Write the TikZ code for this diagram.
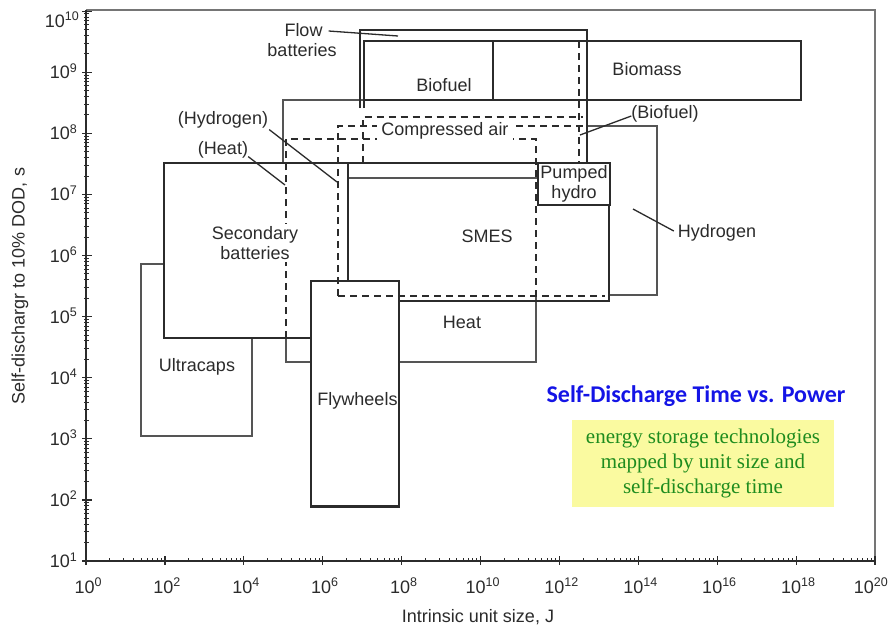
\documentclass[tikz,border=0pt]{standalone}
\usepackage{fontspec}
\setmainfont{Liberation Sans}
\newfontfamily\titlefont{Carlito}
\newfontfamily\notefont{Liberation Serif}
\usetikzlibrary{calc}
\definecolor{ink}{HTML}{2B2B2B}
\definecolor{titleblue}{HTML}{1414E6}
\definecolor{notegreen}{HTML}{1E8C1E}
\definecolor{noteyellow}{HTML}{FAFAA0}
\newcommand{\tenpow}[1]{10\raisebox{6.5pt}{\fontsize{12.5}{12}\selectfont #1}}
\begin{document}
\begin{tikzpicture}[x=1pt,y=-1pt,
 lab/.style={font=\fontsize{18}{20}\selectfont, text=ink, inner sep=1pt, align=center},
 ticklab/.style={font=\fontsize{18}{20}\selectfont, text=ink, inner sep=0pt},
 thinbox/.style={draw=ink!80, line width=1.1pt},
 medbox/.style={draw=ink, line width=1.7pt},
 thickbox/.style={draw=ink, line width=2.3pt},
 dashbox/.style={draw=ink, line width=1.9pt, dash pattern=on 7pt off 5pt},
 leader/.style={draw=ink, line width=1.3pt},
 framel/.style={draw=ink!65, line width=1.3pt},
 axisl/.style={draw=ink, line width=1.8pt},
 majtick/.style={draw=ink, line width=1.2pt},
 mintick/.style={draw=ink, line width=0.9pt}
]
\useasboundingbox (0,0) rectangle (891,630);
\fill[white] (0,0) rectangle (891,630);

% ---------- frame and axes ----------
\draw[framel] (86,10) -- (875,10) -- (875,561);
\draw[axisl] (86,10) -- (86,561) -- (875,561);
% y ticks
\foreach \d in {0,...,9} \draw[majtick] (82,{561-61.1*\d}) -- (92,{561-61.1*\d});
\foreach \d in {0,...,8} \foreach \m in {2,...,9}
  \draw[mintick] (84,{561-61.1*(\d+log10(\m))}) -- (89,{561-61.1*(\d+log10(\m))});
% x ticks
\foreach \d in {0,...,10} \draw[majtick] ({86+78.9*\d},556) -- ({86+78.9*\d},565);
\foreach \d in {0,...,9} \foreach \m in {2,...,9}
  \draw[mintick] ({86+78.9*(\d+log10(\m))},558) -- ({86+78.9*(\d+log10(\m))},562);

% tick labels
\foreach \e in {1,...,9}
  \node[ticklab, anchor=base east] (ylab\e) at (77,{561-61.1*(\e-1)+6.5}) {\tenpow{\e}};
\node[ticklab, anchor=base east] (ylab10) at (79,27) {\tenpow{10}};
\foreach \e in {0,2,...,18}
  \node[ticklab, anchor=base] (xlab\e) at ({86+39.45*\e+2},593) {\tenpow{\e}};
\node[ticklab, anchor=base east] (xlab20) at (888,593) {\tenpow{20}};

% axis titles
\node[lab, rotate=90] (ytitle) at (20,286) {Self-dischargr to 10\% DOD, s};
\node[lab] (xtitle) at (478,617) {Intrinsic unit size, J};

% ---------- thin outlines ----------
\draw[thinbox] (283,163) -- (283,100) -- (364,100);
\draw[thinbox] (364,100) -- (587,100);
\draw[thinbox] (587,126) -- (657,126) -- (657,295) -- (609,295);
\draw[thinbox] (286,338) -- (286,362) -- (310,362);
\draw[thinbox] (400,362) -- (536,362) -- (536,296);
\draw[thinbox] (164,264) -- (141,264) -- (141,436) -- (252,436) -- (252,338);
\draw[thinbox] (348,178) -- (537,178);

% ---------- dashed outlines ----------
\draw[dashbox] (286,338) -- (286,139) -- (536,139) -- (536,296);
\draw[dashbox] (338,296) -- (338,126) -- (583,126);
\draw[dashbox] (338,296) -- (605,296);
\draw[dashbox] (363,163) -- (363,116.7) -- (583,116.7);
\draw[dashbox] (579,41) -- (579,163);

% ---------- medium outlines ----------
\draw[medbox] (360,108) -- (360,30) -- (587,30) -- (587,163);
\draw[medbox] (364,108) -- (364,40.7) -- (801,40.7) -- (801,100) -- (364,100);
\draw[medbox] (493,40.7) -- (493,100);
\draw[medbox] (310,338) -- (164,338) -- (164,163) -- (610,163);
\draw[medbox] (609,205) -- (609,301) -- (400,301);

% ---------- thick outlines ----------
\draw[thickbox] (348,163) -- (348,281);
\draw[thickbox] (310.7,281) rectangle (399.3,506.5);

% ---------- labels ----------
\node[lab] (flow) at (303.5,30) {Flow};
\node[lab] (flowb) at (302,50) {batteries};
\coordinate (flowpt) at (398,36);
\draw[leader] (flow.east) ++(5,1) -- (flowpt);

\node[lab] (biofuel) at (444,85) {Biofuel};
\node[lab] (biomass) at (647,69) {Biomass};
\node[lab] (hydl) at (223,120) {(Hydrogen)};
\node[lab] (heatl) at (223,150) {(Heat)};
\node[lab, fill=white, inner xsep=4pt, inner ysep=2pt] (cair) at (445,131) {Compressed air};
\node[lab] (biofl) at (665,114) {(Biofuel)};
\node[lab, draw=ink, line width=1.7pt, fill=white, minimum width=72pt, minimum height=42pt, inner sep=0pt] (pumped) at (574,184) {Pumped\\hydro};
\node[lab, fill=white, inner sep=2pt] (secbat) at (255,243) {Secondary\\batteries};
\node[lab] (smes) at (487,236) {SMES};
\node[lab] (hydrogen) at (717,233) {Hydrogen};
\node[lab] (heat) at (462,322) {Heat};
\node[lab] (ultra) at (197,367) {Ultracaps};
\node[lab] (fly) at (357.5,401) {Flywheels};

\coordinate (hydpt) at (337,182);
\coordinate (heatpt) at (285,185);
\coordinate (biofpt) at (580,135);
\coordinate (hyd2pt) at (633,209);
\draw[leader] (hydl.south east) -- (hydpt);
\draw[leader] (heatl.south east) ++(-1,-3) -- (heatpt);
\draw[leader] (biofl.west) ++(1,2) -- (biofpt);
\draw[leader] (hydrogen.west) ++(-3,-2) -- (hyd2pt);

% ---------- title and note ----------
\node[font=\titlefont\bfseries\fontsize{24}{26}\selectfont, text=titleblue, inner sep=0pt] (title) at (696,396) {Self-Discharge Time vs. Power};
\node[fill=noteyellow, minimum width=262pt, minimum height=87pt, inner sep=0pt, align=center,
      font=\notefont\fontsize{21}{25}\selectfont, text=notegreen] (note) at (703,463.3)
  {energy storage technologies\\mapped by unit size and\\self-discharge time};
\end{tikzpicture}
\end{document}
